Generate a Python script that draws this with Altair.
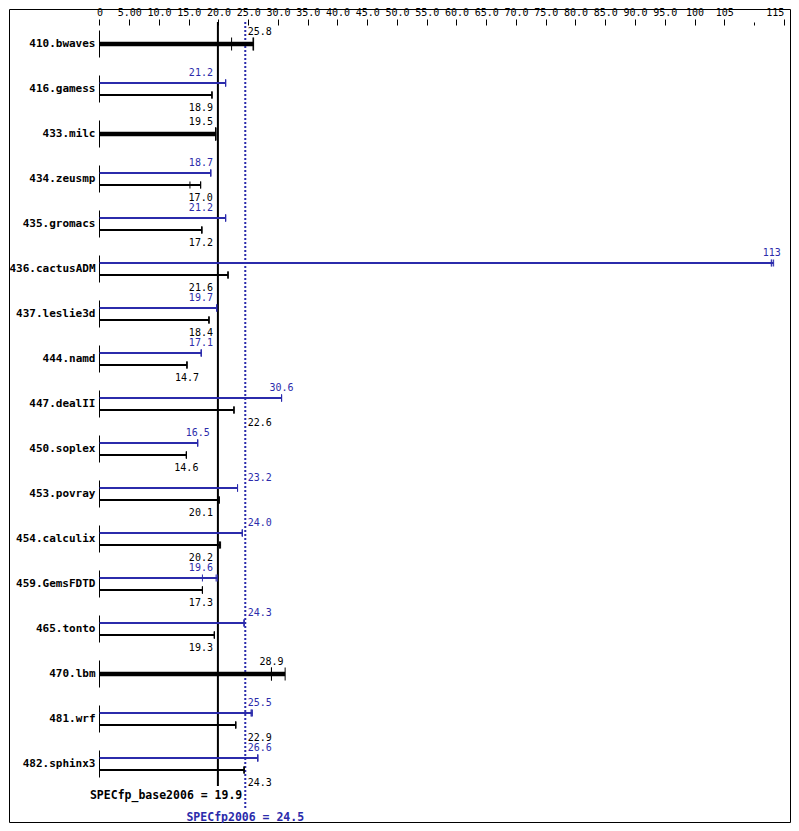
import altair as alt
import pandas as pd

# ---------------- data ----------------
names = ["410.bwaves", "416.gamess", "433.milc", "434.zeusmp", "435.gromacs",
         "436.cactusADM", "437.leslie3d", "444.namd", "447.dealII", "450.soplex",
         "453.povray", "454.calculix", "459.GemsFDTD", "465.tonto", "470.lbm",
         "481.wrf", "482.sphinx3"]
base_score = [25.8, 18.9, 19.5, 17.0, 17.2, 21.6, 18.4, 14.7, 22.6, 14.6,
              20.1, 20.2, 17.3, 19.3, 28.9, 22.9, 24.3]
peak_score = [None, 21.2, None, 18.7, 21.2, 113, 19.7, 17.1, 30.6, 16.5,
              23.2, 24.0, 19.6, 24.3, None, 25.5, 26.6]
base_runs = [[22.2, 25.8, 25.9], [18.9, 18.9, 18.9], [19.5, 19.5, 19.6],
             [15.2, 17.0, 17.0], [17.2, 17.2, 17.2], [21.6, 21.6, 21.6],
             [18.4, 18.4, 18.4], [14.7, 14.7, 14.7], [22.6, 22.6, 22.6],
             [14.6, 14.6, 14.6], [20.1, 20.1, 20.1], [20.2, 20.2, 20.35],
             [17.3, 17.3, 17.3], [19.3, 19.3, 19.3], [28.9, 28.9, 31.2],
             [22.9, 22.9, 22.9], [24.3, 24.3, 24.3]]
peak_runs = [None, [21.2, 21.2, 21.2], None, [18.7, 18.7, 18.7],
             [21.2, 21.2, 21.2], [112.9, 113.0, 113.3], [19.7, 19.7, 19.7],
             [17.1, 17.1, 17.1], [30.6, 30.6, 30.6], [16.5, 16.5, 16.5],
             [23.2, 23.2, 23.2], [24.0, 24.0, 24.0], [17.3, 19.6, 19.8],
             [24.3, 24.3, 24.3], None, [25.5, 25.5, 25.7], [26.6, 26.6, 26.6]]
specfp_base = 19.9
specfp_peak = 24.5
axis_major = [0, 5, 10, 15, 20, 25, 30, 35, 40, 45, 50, 55, 60, 65, 70, 75,
              80, 85, 90, 95, 100, 105, 115]
axis_minor = [110]

# ---------------- layout ----------------
BLUE = "#2b2bab"
W, H = 781, 813
PX = 5.95         # pixels per unit on x
X0 = 90.5         # pixel of value 0
XMIN = -X0 / PX
XMAX = XMIN + W / PX
ROWPX = 45.0
Y0 = 35.0
YMIN = -Y0 / ROWPX
YMAX = YMIN + H / ROWPX
N = len(names)


def py(p):
    return p / ROWPX


def place(v, text):
    w = len(text) * 6.0 / PX
    zl = specfp_base - 5 / PX
    zr = specfp_peak + 2.5 / PX
    left, right = v - w / 2, v + w / 2
    if right > zl and left < zr:
        sl = right - zl
        sr = zr - left
        v = v - sl if sl <= sr else v + sr
    maxr = XMAX - 8 / PX
    if v + w / 2 > maxr:
        v = maxr - w / 2
    return v


bars, ticks, labels, stubs = [], [], [], []
for i, nm in enumerate(names):
    stubs.append({"x": 0, "y0": i - py(13.5), "y1": i + py(13.5)})
    if peak_runs[i] is None:
        sets = [("single", base_runs[i], base_score[i], 0.0, "black", 4.5, 6.5, -12.5)]
    else:
        sets = [("peak", peak_runs[i], peak_score[i], -6.0, BLUE, 2.0, 3.5, -16.5),
                ("base", base_runs[i], base_score[i], 6.0, "black", 2.0, 3.5, 18.5)]
    for kind, runs, score, off, col, sw, th, loff in sets:
        yc = i + py(off)
        bars.append({"x0": 0, "x1": max(runs), "y": yc, "color": col, "sw": sw})
        for r in runs:
            ticks.append({"x": r, "y0": yc - py(th), "y1": yc + py(th), "color": col})
        txt = f"{score:.1f}" if score < 100 else f"{score:.0f}"
        labels.append({"x": place(score, txt), "y": i + py(loff), "text": txt, "color": col})

bars_df = pd.DataFrame(bars)
ticks_df = pd.DataFrame(ticks)
labels_df = pd.DataFrame(labels)
stubs_df = pd.DataFrame(stubs)
names_df = pd.DataFrame({"name": names, "y": list(range(N)), "x": [0] * N})
vlines_df = pd.DataFrame({
    "x": [specfp_base, specfp_peak],
    "y0": [py(-22), py(-22)],
    "y1": [N - 1 + py(22), N - 1 + py(45)],
    "kind": ["base", "peak"],
})
summary_df = pd.DataFrame({
    "x": [specfp_peak, specfp_peak],
    "y": [N - 1 + py(32), N - 1 + py(54)],
    "text": [f"SPECfp_base2006 = {specfp_base}", f"SPECfp2006 = {specfp_peak}"],
    "color": ["black", BLUE],
    "align": ["right", "center"],
})

xs = alt.Scale(domain=[XMIN, XMAX], nice=False, zero=False)
ys = alt.Scale(domain=[YMIN, YMAX], nice=False, zero=False, reverse=True)
MONO = "DejaVu Sans Mono"

major_axis = alt.Axis(
    orient="top", values=axis_major,
    labelExpr="datum.value == 0 ? '0' : format(datum.value, '.3r')",
    labelAlign={"condition": {"test": "datum.value == 115", "value": "right"},
                "value": "center"},
    offset=-16, domain=False, grid=False, tickSize=6, tickColor="black",
    tickWidth=1, labelColor="black", labelFont=MONO, labelFontSize=10,
    labelPadding=2, labelOverlap=False, labelFlush=False, title=None,
)
minor_axis = alt.Axis(
    orient="top", values=axis_minor, labels=False, offset=-16, domain=False,
    grid=False, tickSize=3, tickColor="black", tickWidth=1, title=None,
)

bar_layer = alt.Chart(bars_df).mark_rule(strokeCap="butt").encode(
    x=alt.X("x0:Q", scale=xs, axis=major_axis),
    x2="x1:Q",
    y=alt.Y("y:Q", scale=ys, axis=None),
    color=alt.Color("color:N", scale=None),
    strokeWidth=alt.StrokeWidth("sw:Q", scale=None),
)

tick_layer = alt.Chart(ticks_df).mark_rule(strokeWidth=1, strokeCap="butt").encode(
    x=alt.X("x:Q", scale=xs, axis=minor_axis),
    y=alt.Y("y0:Q", scale=ys, axis=None),
    y2="y1:Q",
    color=alt.Color("color:N", scale=None),
)

stub_layer = alt.Chart(stubs_df).mark_rule(strokeWidth=1, color="black").encode(
    x=alt.X("x:Q", scale=xs, axis=None),
    y=alt.Y("y0:Q", scale=ys, axis=None),
    y2="y1:Q",
)

base_line = alt.Chart(vlines_df).transform_filter("datum.kind == 'base'").mark_rule(
    strokeWidth=2, color="black").encode(
    x=alt.X("x:Q", scale=xs, axis=None),
    y=alt.Y("y0:Q", scale=ys, axis=None),
    y2="y1:Q",
)
peak_line = alt.Chart(vlines_df).transform_filter("datum.kind == 'peak'").mark_rule(
    strokeWidth=2, color=BLUE, strokeDash=[2, 2]).encode(
    x=alt.X("x:Q", scale=xs, axis=None),
    y=alt.Y("y0:Q", scale=ys, axis=None),
    y2="y1:Q",
)

label_layer = alt.Chart(labels_df).mark_text(
    font=MONO, fontSize=10, baseline="middle", align="center").encode(
    x=alt.X("x:Q", scale=xs, axis=None),
    y=alt.Y("y:Q", scale=ys, axis=None),
    text="text:N",
    color=alt.Color("color:N", scale=None),
)

name_layer = alt.Chart(names_df).mark_text(
    font=MONO, fontSize=11, fontWeight="bold", baseline="middle",
    align="right", dx=-4, color="black").encode(
    x=alt.X("x:Q", scale=xs, axis=None),
    y=alt.Y("y:Q", scale=ys, axis=None),
    text="name:N",
)

sum_base = alt.Chart(summary_df).transform_filter("datum.align == 'right'").mark_text(
    font=MONO, fontSize=11.5, fontWeight="bold", baseline="middle",
    align="right", dx=-3).encode(
    x=alt.X("x:Q", scale=xs, axis=None),
    y=alt.Y("y:Q", scale=ys, axis=None),
    text="text:N",
    color=alt.Color("color:N", scale=None),
)
sum_peak = alt.Chart(summary_df).transform_filter("datum.align == 'center'").mark_text(
    font=MONO, fontSize=11.5, fontWeight="bold", baseline="middle",
    align="center").encode(
    x=alt.X("x:Q", scale=xs, axis=None),
    y=alt.Y("y:Q", scale=ys, axis=None),
    text="text:N",
    color=alt.Color("color:N", scale=None),
)

chart = alt.layer(
    stub_layer, base_line, peak_line, bar_layer, tick_layer,
    label_layer, name_layer, sum_base, sum_peak,
).resolve_axis(x="independent").properties(
    width=W, height=H, autosize="none",
    padding={"left": 1, "top": 1, "right": 1, "bottom": 1},
    background="white",
).configure_view(stroke="black", strokeWidth=1)

chart.save("out.html", embed_options={"renderer": "svg", "actions": False})
